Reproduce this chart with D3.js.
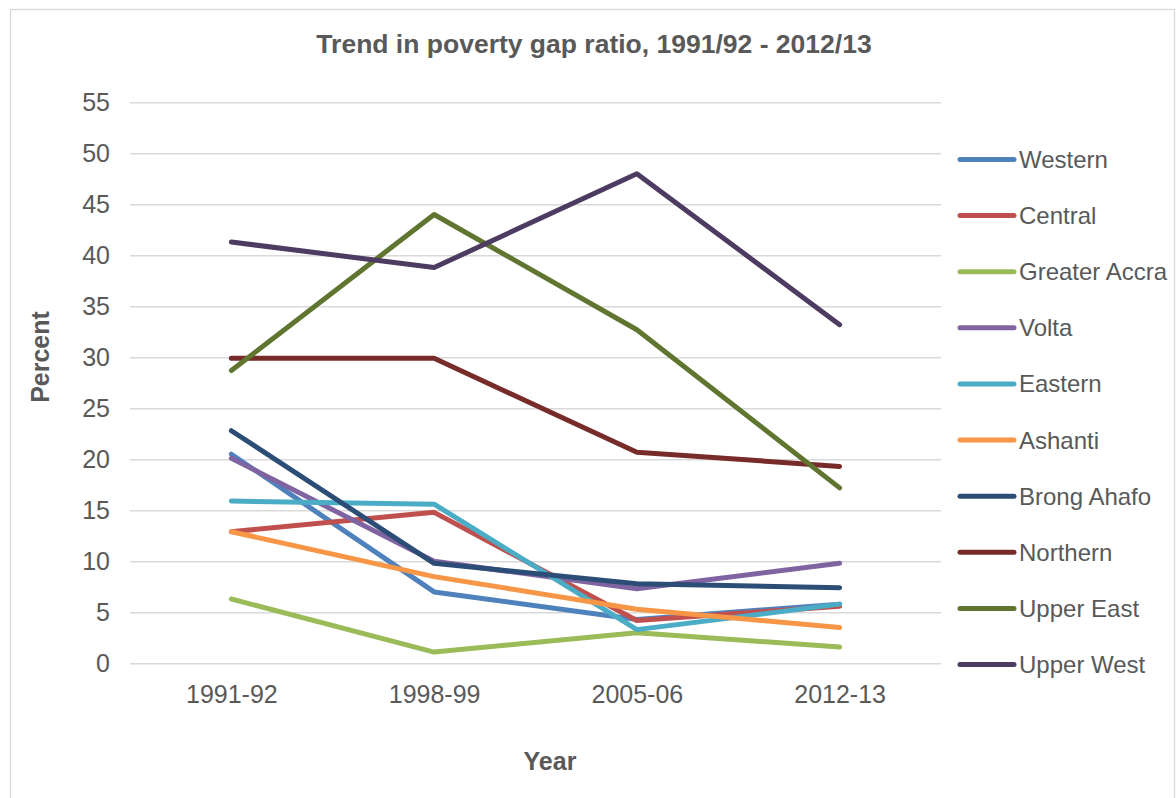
<!DOCTYPE html>
<html>
<head>
<meta charset="utf-8">
<script src="https://cdn.jsdelivr.net/npm/d3@7"></script>
<style>
  html, body { margin: 0; padding: 0; background: #ffffff; }
  svg { display: block; }
  text { font-family: "Liberation Sans", Arial, sans-serif; fill: #595959; }
</style>
</head>
<body>
<svg id="chart" width="1176" height="798"></svg>
<script>
// Survey rounds along the x axis
const years = ["1991-92", "1998-99", "2005-06", "2012-13"];

// Poverty gap ratio (percent) by region, one value per survey round
const western      = [20.5, 7.0, 4.3, 5.8];
const central      = [12.9, 14.8, 4.2, 5.6];
const greaterAccra = [6.3, 1.1, 3.0, 1.6];
const volta        = [20.1, 10.0, 7.3, 9.8];
const eastern      = [15.9, 15.6, 3.3, 5.8];
const ashanti      = [12.9, 8.5, 5.3, 3.5];
const brongAhafo   = [22.8, 9.8, 7.8, 7.4];
const northern     = [29.9, 29.9, 20.7, 19.3];
const upperEast    = [28.7, 44.0, 32.7, 17.2];
const upperWest    = [41.3, 38.8, 48.0, 33.2];

const regionNames = ["Western", "Central", "Greater Accra", "Volta", "Eastern",
                     "Ashanti", "Brong Ahafo", "Northern", "Upper East", "Upper West"];
const regionValues = [western, central, greaterAccra, volta, eastern,
                      ashanti, brongAhafo, northern, upperEast, upperWest];
const regionColors = ["#4F81BD", "#C0504D", "#9BBB59", "#8064A2", "#4BACC6",
                      "#F79646", "#2C4D75", "#772C2A", "#5F7530", "#4D3B62"];

// Y axis ticks
const yTicks = [0, 5, 10, 15, 20, 25, 30, 35, 40, 45, 50, 55];

const series = regionNames.map((name, i) => ({
  name,
  color: regionColors[i],
  points: years.map((y, j) => ({ year: y, value: regionValues[i][j] }))
}));

const svg = d3.select("#chart");

// Chart frame
svg.append("rect")
  .attr("x", 10.5).attr("y", 9.5)
  .attr("width", 1164).attr("height", 800)
  .attr("fill", "#ffffff")
  .attr("stroke", "#d9d9d9").attr("stroke-width", 1.3);

const plot = { left: 130, right: 941, top: 102.3, bottom: 663.3 };

const x = d3.scalePoint()
  .domain(years)
  .range([plot.left, plot.right])
  .padding(0.5);

const y = d3.scaleLinear()
  .domain([0, 55])
  .range([plot.bottom, plot.top]);

// Title
svg.append("text")
  .attr("x", 594).attr("y", 53)
  .attr("text-anchor", "middle")
  .attr("font-size", 26.5).attr("font-weight", "bold")
  .text("Trend in poverty gap ratio, 1991/92 - 2012/13");

// Horizontal gridlines and y tick labels
const yAxis = d3.axisLeft(y)
  .tickValues(yTicks)
  .tickSize(-(plot.right - plot.left))
  .tickPadding(20);

const gy = svg.append("g")
  .attr("transform", `translate(${plot.left},0)`)
  .call(yAxis);
gy.select(".domain").remove();
gy.selectAll(".tick line").attr("stroke", "#d9d9d9").attr("stroke-width", 1.5);
gy.selectAll(".tick text")
  .attr("font-size", 25)
  .attr("fill", "#595959")
  .style("font-family", "'Liberation Sans', Arial, sans-serif");

// X axis labels
const xAxis = d3.axisBottom(x).tickSize(0).tickPadding(22);
const gx = svg.append("g")
  .attr("transform", `translate(0,${plot.bottom})`)
  .call(xAxis);
gx.select(".domain").remove();
gx.selectAll(".tick text")
  .attr("font-size", 25)
  .attr("fill", "#595959")
  .style("font-family", "'Liberation Sans', Arial, sans-serif");

// Axis titles
svg.append("text")
  .attr("x", 550).attr("y", 770)
  .attr("text-anchor", "middle")
  .attr("font-size", 25).attr("font-weight", "bold")
  .text("Year");

svg.append("text")
  .attr("transform", "translate(49,357) rotate(-90)")
  .attr("text-anchor", "middle")
  .attr("font-size", 25).attr("font-weight", "bold")
  .text("Percent");

// Region lines
const line = d3.line()
  .x(d => x(d.year))
  .y(d => y(d.value));

svg.append("g")
  .selectAll("path")
  .data(series)
  .join("path")
  .attr("d", d => line(d.points))
  .attr("fill", "none")
  .attr("stroke", d => d.color)
  .attr("stroke-width", 5)
  .attr("stroke-linecap", "round")
  .attr("stroke-linejoin", "round");

// Legend
const legend = svg.append("g");
const rowY = d3.scalePoint()
  .domain(regionNames)
  .range([159.5, 664.5]);

const rows = legend.selectAll("g")
  .data(series)
  .join("g")
  .attr("transform", d => `translate(0,${rowY(d.name)})`);

rows.append("line")
  .attr("x1", 960).attr("x2", 1014)
  .attr("y1", 0).attr("y2", 0)
  .attr("stroke", d => d.color)
  .attr("stroke-width", 5)
  .attr("stroke-linecap", "round");

rows.append("text")
  .attr("x", 1019).attr("y", 8.5)
  .attr("font-size", 24)
  .text(d => d.name);
</script>
</body>
</html>
